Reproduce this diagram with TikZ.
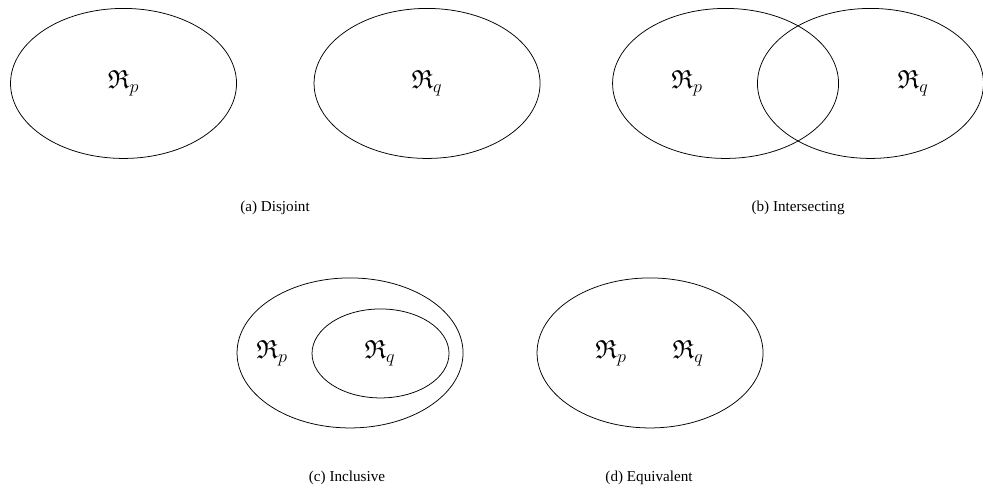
\documentclass[tikz,border=0pt]{standalone}
\usepackage{amsmath,amssymb}
\usepackage{fontspec}
\setmainfont{Liberation Serif}
\usetikzlibrary{positioning}

\begin{document}
\begin{tikzpicture}[region/.style={line width=0.5pt},rlabel/.style={font=\LARGE},subcap/.style={font=\normalsize}]
\useasboundingbox (0,0) rectangle (22.80,11.48);
% ---------- (a) disjoint
\begin{scope}
\draw[region] (2.865,9.545) ellipse [x radius=2.621,y radius=1.740];
\draw[region] (9.905,9.545) ellipse [x radius=2.621,y radius=1.740];
\node[rlabel] (ap) at (2.865,9.545){$\mathfrak{R}_p$};
\node[rlabel] (aq) at (9.905,9.545){$\mathfrak{R}_q$};
\node[subcap] (acap) at (6.379,6.657){(a) Disjoint};
\end{scope}
% ---------- (b) intersecting
\begin{scope}
\draw[region] (16.829,9.545) ellipse [x radius=2.621,y radius=1.740];
\draw[region] (20.190,9.545) ellipse [x radius=2.621,y radius=1.740];
\node[rlabel] (bp) at (15.936,9.545){$\mathfrak{R}_p$};
\node[rlabel] (bq) at (21.178,9.545){$\mathfrak{R}_q$};
\node[subcap] (bcap) at (18.511,6.657){(b) Intersecting};
\end{scope}
% ---------- (c) inclusive
\begin{scope}
\draw[region] (8.119,3.294) ellipse [x radius=2.621,y radius=1.740];
\draw[region] (8.826,3.282) ellipse [x radius=1.589,y radius=1.032];
\node[rlabel] (cp) at (6.309,3.294){$\mathfrak{R}_p$};
\node[rlabel] (cq) at (8.815,3.294){$\mathfrak{R}_q$};
\node[subcap] (ccap) at (8.049,0.394){(c) Inclusive};
\end{scope}
% ---------- (d) equivalent
\begin{scope}
\draw[region] (15.077,3.294) ellipse [x radius=2.621,y radius=1.740];
\node[rlabel] (dp) at (14.173,3.294){$\mathfrak{R}_p$};
\node[rlabel] (dq) at (15.959,3.294){$\mathfrak{R}_q$};
\node[subcap] (dcap) at (15.054,0.394){(d) Equivalent};
\end{scope}
\end{tikzpicture}
\end{document}
